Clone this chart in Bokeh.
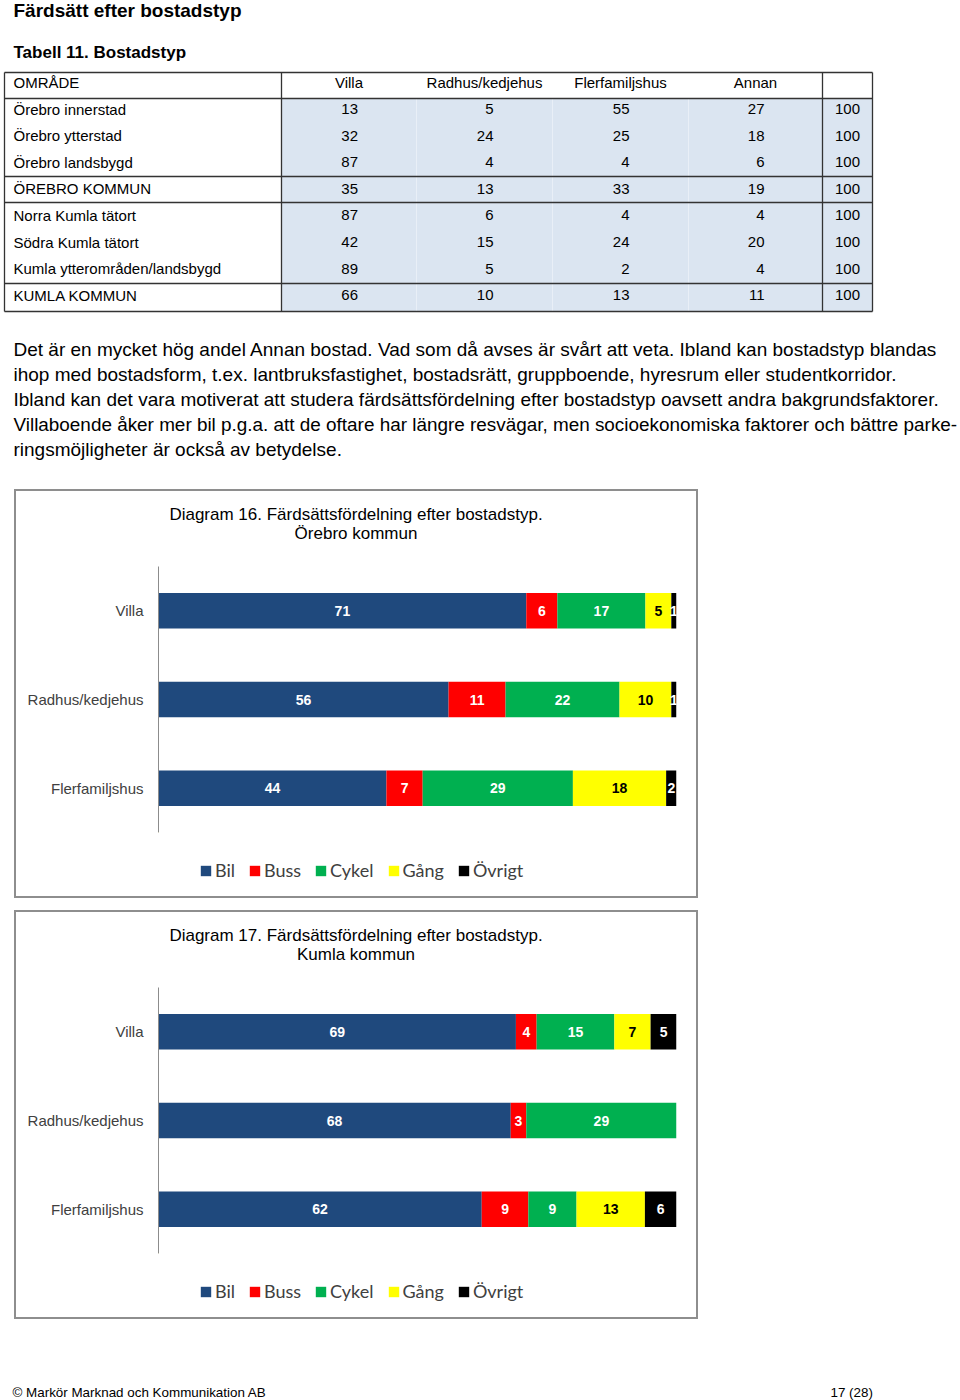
from bokeh.plotting import figure
from bokeh.models import Range1d, FactorRange, Legend, LegendItem, ColumnDataSource, Spacer
from bokeh.layouts import column, row
from bokeh.embed import file_html
from bokeh.resources import INLINE
from bokeh.core.properties import value
import numpy as np

# ---------------- data ----------------
heading = "Färdsätt efter bostadstyp"
table_title = "Tabell 11. Bostadstyp"
table_header = ["OMRÅDE", "Villa", "Radhus/kedjehus", "Flerfamiljshus", "Annan", ""]
areas = ["Örebro innerstad", "Örebro ytterstad", "Örebro landsbygd", "ÖREBRO KOMMUN",
         "Norra Kumla tätort", "Södra Kumla tätort", "Kumla ytterområden/landsbygd", "KUMLA KOMMUN"]
t_villa = [13, 32, 87, 35, 87, 42, 89, 66]
t_radhus = [5, 24, 4, 13, 6, 15, 5, 10]
t_flerfam = [55, 25, 4, 33, 4, 24, 2, 13]
t_annan = [27, 18, 6, 19, 4, 20, 4, 11]
t_total = [100, 100, 100, 100, 100, 100, 100, 100]

paragraph = [
    "Det är en mycket hög andel Annan bostad. Vad som då avses är svårt att veta. Ibland kan bostadstyp blandas",
    "ihop med bostadsform, t.ex. lantbruksfastighet, bostadsrätt, gruppboende, hyresrum eller studentkorridor.",
    "Ibland kan det vara motiverat att studera färdsättsfördelning efter bostadstyp oavsett andra bakgrundsfaktorer.",
    "Villaboende åker mer bil p.g.a. att de oftare har längre resvägar, men socioekonomiska faktorer och bättre parke-",
    "ringsmöjligheter är också av betydelse.",
]

modes = ["Bil", "Buss", "Cykel", "Gång", "Övrigt"]
housing = ["Villa", "Radhus/kedjehus", "Flerfamiljshus"]

orebro_title = ["Diagram 16. Färdsättsfördelning efter bostadstyp.", "Örebro kommun"]
orebro_bil = [71, 56, 44]
orebro_buss = [6, 11, 7]
orebro_cykel = [17, 22, 29]
orebro_gang = [5, 10, 18]
orebro_ovrigt = [1, 1, 2]

kumla_title = ["Diagram 17. Färdsättsfördelning efter bostadstyp.", "Kumla kommun"]
kumla_bil = [69, 68, 62.4]
kumla_buss = [4, 3, 9.0]
kumla_cykel = [15, 29, 9.3]
kumla_gang = [7, 0, 13.2]
kumla_ovrigt = [5, 0, 6.1]

footer_left = "© Markör Marknad och Kommunikation AB"
footer_right = "17 (28)"

# ---------------- styles ----------------
FONT = value("Liberation Sans")
mode_colors = ["#1F497D", "#FF0000", "#00B050", "#FFFF00", "#000000"]
label_colors = ["white", "white", "white", "black", "white"]
FRAME_L, FRAME_R = 142, 20          # chart frame borders inside the boxed chart (px)


def blank(fig):
    fig.outline_line_color = None
    fig.xgrid.visible = False
    fig.ygrid.visible = False
    fig.background_fill_color = "white"
    fig.border_fill_color = "white"


def page_fig(w, h, x0, x1, y_top, y_bottom, left=0, right=0):
    f = figure(width=w, height=h, x_range=Range1d(x0, x1), y_range=Range1d(y_bottom, y_top),
               output_backend="svg", toolbar_location=None, min_border=0,
               min_border_left=left, min_border_right=right,
               x_axis_location=None, y_axis_location=None, title=None)
    blank(f)
    return f


# ---------------- top: headings, table, paragraph ----------------
top = page_fig(960, 489, 0, 960, 0, 489)

top.text(x=[13], y=[10], text=[heading], text_font=FONT, text_font_style="bold",
         text_font_size="19px", text_baseline="middle", text_color="black")
top.text(x=[13], y=[52], text=[table_title], text_font=FONT, text_font_style="bold",
         text_font_size="17px", text_baseline="middle", text_color="black")

# table layout
tbl_left, tbl_area_right, tbl_right = 4, 281, 872
col_edges = [281, 416, 552, 688, 822, 872]
hdr_y = 82
row_y0, row_step = 108.5, 26.6
row_y = [row_y0 + i * row_step for i in range(len(areas))]
hlines = [72, 98, 176, 202, 283, 311]

top.quad(left=[tbl_area_right], right=[tbl_right], top=[hlines[1]], bottom=[hlines[-1]],
         fill_color="#DBE5F1", line_color=None)
for xe in col_edges[1:4]:
    top.segment(x0=[xe], y0=[hlines[1]], x1=[xe], y1=[hlines[-1]], line_color="#E9EFF7", line_width=1)
top.segment(x0=[tbl_left] * len(hlines), y0=hlines, x1=[tbl_right] * len(hlines), y1=hlines,
            line_color="#333333", line_width=1.3)
for xe in [tbl_left, tbl_area_right, col_edges[4], tbl_right]:
    top.segment(x0=[xe], y0=[hlines[0]], x1=[xe], y1=[hlines[-1]], line_color="#333333", line_width=1.3)

top.text(x=[13], y=[hdr_y], text=[table_header[0]], text_font=FONT, text_font_size="15px",
         text_baseline="middle", text_color="black")
centers = [(col_edges[i] + col_edges[i + 1]) / 2 for i in range(5)]
top.text(x=centers[:4], y=[hdr_y] * 4, text=table_header[1:5], text_font=FONT, text_font_size="15px",
         text_baseline="middle", text_align="center", text_color="black")
top.text(x=[13] * len(areas), y=row_y, text=areas, text_font=FONT, text_font_size="15px",
         text_baseline="middle", text_color="black")
for j, col in enumerate([t_villa, t_radhus, t_flerfam, t_annan]):
    top.text(x=[centers[j] + 9] * len(col), y=row_y, text=[str(v) for v in col], text_font=FONT,
             text_font_size="15px", text_baseline="middle", text_align="right", text_color="black")
top.text(x=[centers[4]] * len(t_total), y=row_y, text=[str(v) for v in t_total], text_font=FONT,
         text_font_size="15px", text_baseline="middle", text_align="center", text_color="black")

par_y = [349 + 25 * i for i in range(len(paragraph))]
par_sizes = ["19px", "19px", "19px", "18.9px", "19px"]
for line, yy, fs in zip(paragraph, par_y, par_sizes):
    top.text(x=[13], y=[yy], text=[line], text_font=FONT, text_font_size=fs,
             text_baseline="middle", text_color="black")


# ---------------- charts ----------------
def make_chart(titles, series):
    # title strip: frame spans page x 158..676, y 491..566
    tf = page_fig(680, 75, 158, 676, 491, 566, left=FRAME_L, right=FRAME_R)
    tf.text(x=[355.5, 355.5], y=[514, 533], text=titles, text_font=FONT, text_font_size="17px",
            text_align="center", text_baseline="middle", text_color="black")

    # bars
    bf = figure(width=680, height=266, y_range=FactorRange(*housing[::-1]), x_range=Range1d(0, 100),
                output_backend="svg", toolbar_location=None, title=None,
                min_border_left=FRAME_L, min_border_right=FRAME_R, min_border_top=0, min_border_bottom=0,
                x_axis_location=None)
    blank(bf)
    data = dict(cat=housing)
    for m, s in zip(modes, series):
        data[m] = s
    src = ColumnDataSource(data)
    bf.hbar_stack(modes, y="cat", height=0.4, color=mode_colors, source=src, line_color=None)

    vals = np.array(series, dtype=float)
    right = vals.cumsum(axis=0)
    mid = right - vals / 2
    for k in range(len(modes)):
        keep = [i for i in range(len(housing)) if vals[k, i] > 0]
        bf.text(x=[mid[k, i] for i in keep], y=[housing[i] for i in keep],
                text=[str(int(round(vals[k, i]))) for i in keep],
                text_font=FONT, text_font_style="bold", text_font_size="14px",
                text_align="center", text_baseline="middle", text_color=label_colors[k])

    ax = bf.yaxis[0]
    ax.axis_line_color = "#8C8C8C"
    ax.major_tick_line_color = None
    ax.minor_tick_line_color = None
    ax.major_label_standoff = 9
    ax.major_label_text_font = "Liberation Sans"
    ax.major_label_text_font_size = "15px"
    ax.major_label_text_color = "#404040"

    # legend strip: frame spans page x 158..676, y 832..896
    lf = page_fig(680, 64, 158, 676, 832, 896, left=FRAME_L, right=FRAME_R)
    # zero-width stack kept outside the visible strip: only feeds the legend swatches
    lsrc = ColumnDataSource(dict(cat=[0], **{m: [0] for m in modes}))
    lrs = lf.hbar_stack(modes, y="cat", height=0.4, color=mode_colors, source=lsrc, line_color=None)
    legend = Legend(items=[LegendItem(label=m, renderers=[r]) for m, r in zip(modes, lrs)],
                    orientation="horizontal", location=(41, 15), glyph_width=13, glyph_height=13,
                    label_standoff=3, spacing=13, padding=0, margin=0, border_line_color=None,
                    background_fill_alpha=0, label_text_font="Lato", label_text_font_size="18px",
                    label_text_color="#404040")
    lf.add_layout(legend)

    return column(tf, bf, lf, styles={"border": "2px solid #8E8E8E"})


c1 = make_chart(orebro_title, [orebro_bil, orebro_buss, orebro_cykel, orebro_gang, orebro_ovrigt])
c2 = make_chart(kumla_title, [kumla_bil, kumla_buss, kumla_cykel, kumla_gang, kumla_ovrigt])

# ---------------- footer ----------------
foot = page_fig(960, 81, 0, 960, 1319, 1400)
foot.text(x=[12, 830], y=[1392, 1392], text=[footer_left, footer_right], text_font=FONT,
          text_font_size="13.4px", text_baseline="middle", text_color="black")

layout = column(top,
                row(Spacer(width=14, height=409), c1),
                Spacer(width=960, height=12),
                row(Spacer(width=14, height=409), c2),
                foot)

open("out.html", "w").write(file_html(layout, INLINE))
